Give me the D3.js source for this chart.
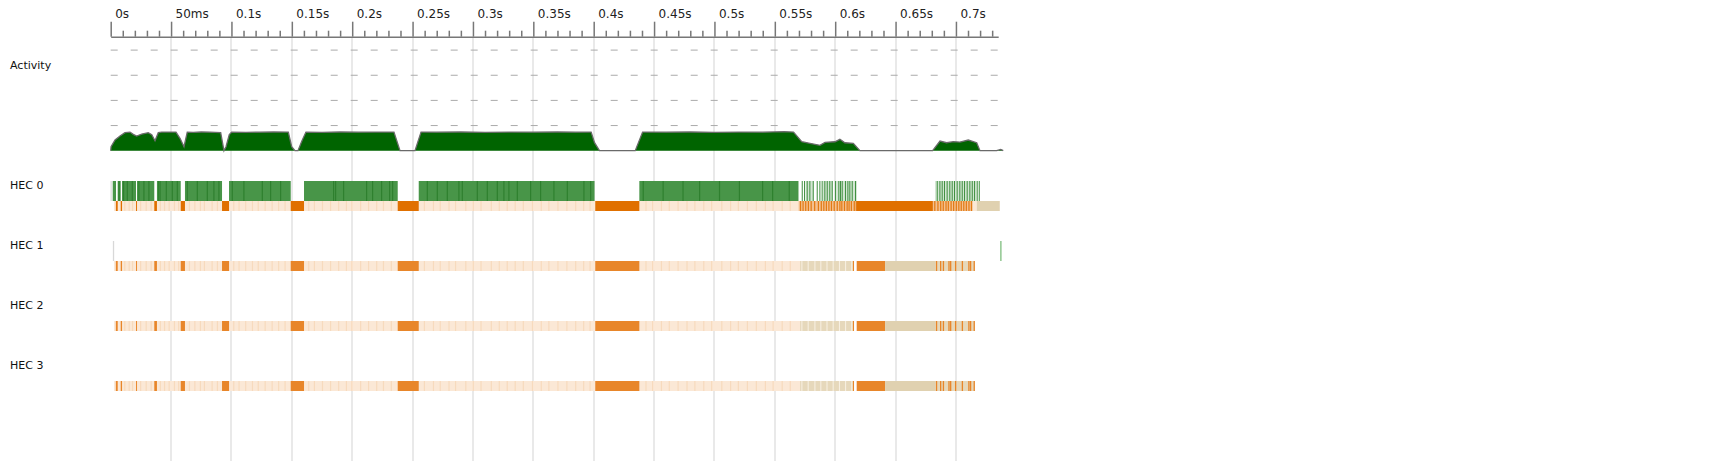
<!DOCTYPE html>
<html>
<head>
<meta charset="utf-8">
<script src="https://cdn.jsdelivr.net/npm/d3@7/dist/d3.min.js"></script>
<style>
  html, body { margin: 0; padding: 0; background: #fff; }
  svg { display: block; font-family: "DejaVu Sans", sans-serif; }
</style>
</head>
<body>
<script>
// ---------------- DATA (time in ms) ----------------
const majorTicks = [0, 50, 100, 150, 200, 250, 300, 350, 400, 450, 500, 550, 600, 650, 700];
const tickLabels = ["0s", "50ms", "0.1s", "0.15s", "0.2s", "0.25s", "0.3s", "0.35s", "0.4s", "0.45s", "0.5s", "0.55s", "0.6s", "0.65s", "0.7s"];
const rowLabels = ["Activity"];
const hecLabels = ["HEC 0", "HEC 1", "HEC 2", "HEC 3"];
const activityLevels = [25, 50, 75, 100];

// activity profile: [time ms, activity %]
const activity = [[0,0],[0.3,4],[3.6,10.6],[7.7,14.6],[11.8,17.9],[16,18.5],[18.7,16.2],[21.5,14.6],[25.7,16.5],[31.1,17.9],[34,15.9],[36.7,9.9],[39.4,17.9],[42.2,18.5],[54.1,18.5],[57.4,12.3],[60.7,4],[63.4,18.5],[68.4,18.2],[75,18.6],[82.2,18.4],[91.1,17.9],[93.8,0],[95.5,4],[98.2,16],[100.2,18.5],[112,18.3],[123.6,18.4],[135,18.6],[147.1,18.5],[149.9,4],[152.6,0],[155.1,0],[158.4,10],[161.7,18.5],[175,18.3],[190,18.6],[205,18.4],[220,18.5],[234.6,18.5],[239.6,0],[252,0],[257,18.5],[270,18.4],[290,18.6],[310,18.3],[330,18.5],[350,18.4],[370,18.6],[385,18.4],[397.9,18.5],[400.7,8],[404.8,0],[434.4,0],[440.5,18.5],[460,18.4],[480,18.6],[500,18.3],[520,18.5],[540,18.4],[558,18.9],[565.5,18.5],[572.3,8.9],[579.1,7.3],[587.4,5.3],[591.6,8.3],[599.8,8.9],[603.9,11.3],[608,7.9],[615,7.3],[620.5,0],[680.7,0],[686.8,9.6],[692.3,7.9],[697.8,9],[703.3,8.6],[710.2,10.6],[717.2,7.9],[719.9,0],[733.7,0],[737.1,1.3],[739.2,0]];

// HEC 0 running (dense green) intervals
const hec0Run = [[1.66,4.39],[5.8,8.28],[9.36,20.96],[21.8,36.1],[38.3,58.0],[61.5,92.2],[98.0,149.1],[160.1,237.7],[255.1,400.7],[437.8,569.6]];
const hec0RunStripes = [6.46,10.19,13.25,17.39,22.86,27.0,31.14,39.17,40.42,45.55,50.52,54.66,62.94,71.23,79.51,84.97,89.11,100.21,109.82,125.06,131.93,140.21,184.11,185.76,192.38,211.43,216.4,223.85,230.48,232.96,261.71,269.99,278.27,287.88,290.7,303.12,311.4,319.68,325.15,329.29,336.25,347.26,355.54,366.56,377.66,391.41,396.96,440.52,457.0,473.48,487.23,503.71,520.19,539.4,547.69,561.44];
// HEC 0 sparse running stripes
const hec0SparseBands = [[575.5,582.2],[589.9,598.2],[600.7,618.0],[682.7,717.0]];
const hec0SparseStripes = [572.3,574.2,576.4,578.6,581.4,584.7,586.9,588.8,591.0,593.0,595.1,597.1,599.8,602.6,604.0,605.4,608.1,610.1,611.7,613.7,616.4,684.1,686.3,688.2,690.1,692.3,694.5,696.5,698.4,700.6,702.8,704.8,706.7,708.9,711.1,713.1,715.0,717.2,718.9];

// HEC 0 GC row
const hec0Peach = [[2.8,569.6],[713.8,717.2]];
const hec0Gc = [[4.4,5.8],[8.3,9.4],[21.0,21.8],[36.1,38.3],[58.0,61.5],[92.2,98.0],[149.1,160.1],[237.7,255.1],[401.3,437.8],[617.8,680.9]];
const hec0GcMixed = [[569.6,617.8],[680.9,713.8]];
const hec0GcMixedStripes = [570.8,572.9,575.1,577.3,579.6,582.5,585.6,588.0,590.1,592.2,594.3,596.4,598.7,601.2,603.4,605.0,607.2,609.4,611.0,612.9,615.3,617.0,682.0,684.6,686.9,689.0,691.3,693.2,695.5,697.6,699.8,701.9,703.9,706.0,708.1,710.3,712.4];
const hec0Idle = [[717.2,736.3]];

// HEC 1-3 GC rows
const hecNPeach = [[2.8,570.9]];
const hecNGc = [[4.4,5.8],[8.3,9.4],[21.0,21.8],[36.1,38.3],[58.0,61.5],[92.2,98.0],[149.1,160.1],[237.7,255.1],[401.3,437.8],[614.7,615.6],[617.8,641.3]];
const hecNTanMixed = [[570.9,614.7],[682.7,715.8]];
const hecNTanStripes = [572.0,577.2,582.8,587.7,592.8,597.9,603.1,608.2,613.3];
const hecNOrangeStripes = [683.4,686.8,689.1,693.7,695.1,699.2,704.8,710.2,711.6,714.6];
const hecNIdle = [[641.3,682.7]];

const peachStripes = [3.5,11.2,14.8,17.6,24.3,28.9,33.0,40.6,44.1,47.9,52.3,55.8,64.7,69.2,73.8,77.1,83.5,87.9,101.4,105.8,111.3,116.9,121.7,127.4,133.2,138.6,143.9,163.5,168.2,174.9,181.6,188.3,194.7,199.2,206.5,213.1,219.8,225.4,231.9,259.3,266.8,272.4,279.7,285.1,293.6,299.8,306.2,314.7,321.3,327.9,334.5,341.2,348.8,356.1,362.4,369.9,377.3,384.6,391.2,396.5,442.8,448.3,455.6,462.1,469.4,476.8,483.3,490.7,497.2,505.6,512.9,519.3,526.8,534.2,541.7,548.1,555.6,562.3];

// thin event markers: [row, time, colour]
const markers = [[0, 0.25, "#dddddd"], [1, 2.2, "#d8d8d8"], [1, 737.1, "#7fbf7f"]];

// ---------------- DRAW ----------------
const W = 1721, H = 461;
const svg = d3.select("body").append("svg").attr("width", W).attr("height", H);

const x = d3.scaleLinear().domain([0, 735]).range([110.7, 998.2]);
const y = d3.scaleLinear().domain([0, 100]).range([150.7, 50.1]);
const rowY = d3.scalePoint().domain(hecLabels).range([181, 361]);
const GREEN_H = 20, GC_H = 10;

// vertical grid (not at 0)
svg.append("g").selectAll("line").data(majorTicks.filter(d => d > 0)).join("line")
  .attr("x1", d => Math.round(x(d))).attr("x2", d => Math.round(x(d)))
  .attr("y1", 37).attr("y2", H)
  .attr("stroke", "#e9e9e9").attr("stroke-width", 2);

// activity dashed levels
svg.append("g").selectAll("line").data(activityLevels).join("line")
  .attr("x1", x(0)).attr("x2", x(735))
  .attr("y1", d => y(d)).attr("y2", d => y(d))
  .attr("stroke", "#aaaaaa").attr("stroke-width", 1)
  .attr("stroke-dasharray", "7,13");

// activity area
svg.append("path").datum(activity)
  .attr("d", d3.area().x(d => x(d[0])).y0(y(0)).y1(d => y(d[1])))
  .attr("fill", "#006400");
svg.append("path").datum(activity)
  .attr("d", d3.line().x(d => x(d[0])).y(d => y(d[1])))
  .attr("fill", "none").attr("stroke", "#6a6a6a").attr("stroke-width", 1.3);

// helpers
function spans(g, data, y0, h, color) {
  g.append("g").selectAll("rect").data(data).join("rect")
    .attr("x", d => x(d[0])).attr("width", d => Math.max(0.5, x(d[1]) - x(d[0])))
    .attr("y", y0).attr("height", h).attr("fill", color);
}
function stripes(g, data, y0, h, color, w) {
  g.append("g").selectAll("rect").data(data).join("rect")
    .attr("x", d => x(d)).attr("width", w)
    .attr("y", y0).attr("height", h).attr("fill", color);
}

// HEC rows
hecLabels.forEach((lab, i) => {
  const top = rowY(lab);
  const gcTop = top + GREEN_H;
  const g = svg.append("g");
  if (i === 0) {
    spans(g, hec0Run, top, GREEN_H, "#489548");
    stripes(g, hec0RunStripes, top, GREEN_H, "#2f802f", 1.2);
    spans(g, hec0SparseBands, top, GREEN_H, "#d3e6d3");
    stripes(g, hec0SparseStripes, top, GREEN_H, "#3f8f3f", 1);
    spans(g, hec0Peach, gcTop, GC_H, "#fbe8d6");
    stripes(g, peachStripes, gcTop, GC_H, "#f7dabd", 1.2);
    spans(g, hec0GcMixed, gcTop, GC_H, "#f4c090");
    stripes(g, hec0GcMixedStripes, gcTop, GC_H, "#e27a12", 1.2);
    spans(g, hec0Gc, gcTop, GC_H, "#e07000");
    spans(g, hec0Idle, gcTop, GC_H, "#e0d1b0");
  } else {
    spans(g, hecNPeach, gcTop, GC_H, "#fbe8d6");
    stripes(g, peachStripes, gcTop, GC_H, "#f7dabd", 1.2);
    spans(g, hecNTanMixed, gcTop, GC_H, "#e6d8bb");
    stripes(g, hecNTanStripes, gcTop, GC_H, "#f8f1e4", 1);
    stripes(g, hecNOrangeStripes, gcTop, GC_H, "#e8862a", 1.3);
    spans(g, hecNGc, gcTop, GC_H, "#e8862a");
    spans(g, hecNIdle, gcTop, GC_H, "#e0d1b0");
  }
});

// thin markers
svg.append("g").selectAll("rect").data(markers).join("rect")
  .attr("x", d => x(d[1]) - 0.5).attr("width", 1.3)
  .attr("y", d => rowY(hecLabels[d[0]])).attr("height", GREEN_H)
  .attr("fill", d => d[2]);

// axis (top)
const axisG = svg.append("g").attr("transform", "translate(0,36.7)");
axisG.call(d3.axisTop(x).tickValues(majorTicks).tickSize(15).tickSizeOuter(0)
  .tickFormat((d, i) => tickLabels[i]));
const minorTicks = d3.range(0, 735, 10).filter(d => d % 50 !== 0);
const minorG = svg.append("g").attr("transform", "translate(0,36.7)");
minorG.call(d3.axisTop(x).tickValues(minorTicks).tickSize(6).tickSizeOuter(0).tickFormat(""));
minorG.select(".domain").remove();
[axisG, minorG].forEach(g => {
  g.selectAll("line").attr("stroke", "#777").attr("stroke-width", 1.5);
  g.selectAll(".domain").attr("stroke", "#777").attr("stroke-width", 1.6);
});
axisG.selectAll("text")
  .attr("x", 4).attr("y", -18.6).attr("dy", 0)
  .attr("text-anchor", "start")
  .attr("fill", "#222").style("font-size", "12px").style("font-family", "DejaVu Sans");

// row labels
svg.append("text").attr("x", 10).attr("y", 68.5).text(rowLabels[0])
  .style("font-size", "11px").attr("fill", "#111");
svg.append("g").selectAll("text").data(hecLabels).join("text")
  .attr("x", 10).attr("y", d => rowY(d) + 8)
  .text(d => d).style("font-size", "11px").attr("fill", "#111");
</script>
</body>
</html>
